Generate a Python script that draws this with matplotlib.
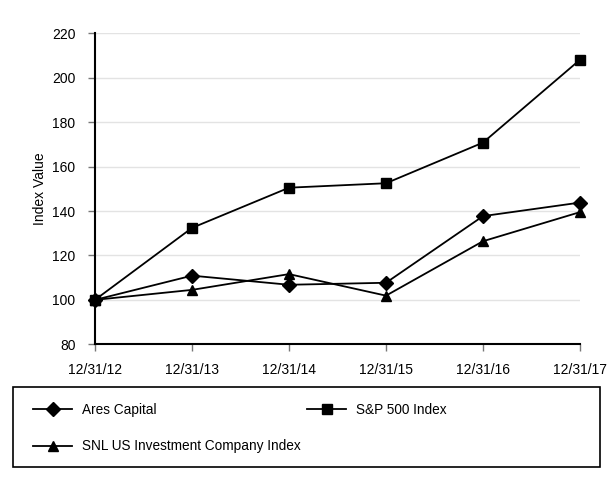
import matplotlib.pyplot as plt
from matplotlib.lines import Line2D
from matplotlib.patches import Rectangle

plt.rcParams['font.family'] = ['Liberation Sans', 'DejaVu Sans']

dates = ['12/31/12', '12/31/13', '12/31/14', '12/31/15', '12/31/16', '12/31/17']
ares = [100, 110.9, 106.8, 107.7, 137.7, 143.8]
sp500 = [100, 132.4, 150.5, 152.5, 170.8, 208.1]
snl = [100, 104.5, 111.6, 101.9, 126.4, 139.5]

W, H = 614, 480
fig = plt.figure(figsize=(6.14, 4.80), dpi=100)
ax = fig.add_axes([95 / W, 1 - 344.3 / H, 485 / W, 311 / H])

x = list(range(len(dates)))
ax.plot(x, ares, color='black', lw=1.3, marker='D', ms=7, zorder=3, clip_on=False)
ax.plot(x, sp500, color='black', lw=1.3, marker='s', ms=7, zorder=3, clip_on=False)
ax.plot(x, snl, color='black', lw=1.3, marker='^', ms=7, zorder=3, clip_on=False)

ax.set_xlim(0, 5)
ax.set_ylim(80, 220)
ax.set_yticks(range(80, 221, 20))
ax.set_xticks(x)
ax.set_xticklabels(dates)
ax.grid(axis='y', color='#e3e3e3', lw=1)
ax.set_axisbelow(True)
for s in ['top', 'right']:
    ax.spines[s].set_visible(False)
ax.spines['left'].set_linewidth(1.5)
ax.spines['bottom'].set_linewidth(1.5)
ax.tick_params(axis='y', length=5, width=1, color='#777777', labelsize=10, pad=9)
ax.tick_params(axis='x', length=5, width=1, color='#777777', labelsize=10, pad=8.5)
ax.set_ylabel('Index Value', fontsize=10, labelpad=4)

# legend box below the plot
fig.add_artist(Rectangle((13 / W, 1 - 467 / H), 587 / W, 80 / H,
                         transform=fig.transFigure, fill=False,
                         lw=1.2, ec='black'))
legend_kw = dict(loc='upper left', frameon=False, fontsize=9.8,
                 handlelength=2.9, handletextpad=0.7, borderpad=0,
                 borderaxespad=0, labelspacing=1.65)
h_ares = Line2D([], [], color='black', lw=1.3, marker='D', ms=7)
h_snl = Line2D([], [], color='black', lw=1.3, marker='^', ms=7)
h_sp = Line2D([], [], color='black', lw=1.3, marker='s', ms=7)
fig.legend([h_ares, h_snl], ['Ares Capital', 'SNL US Investment Company Index'],
           bbox_to_anchor=(33 / W, 1 - 403 / H), **legend_kw)
fig.legend([h_sp], ['S&P 500 Index'],
           bbox_to_anchor=(307 / W, 1 - 403 / H), **legend_kw)

fig.savefig('out.png', dpi=100)
